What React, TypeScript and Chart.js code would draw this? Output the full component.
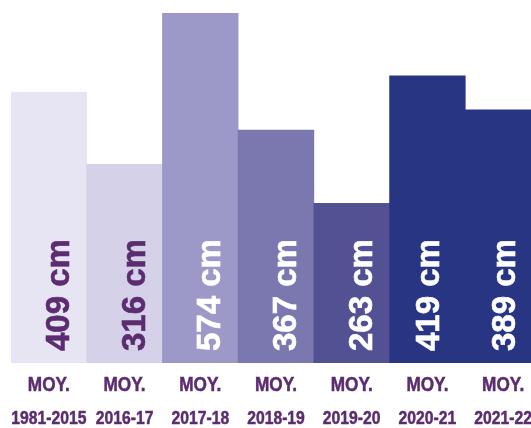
import React, { useEffect, useRef } from "react";
import { Chart, registerables } from "chart.js";

Chart.register(...registerables);

const periods: string[] = ["1981-2015", "2016-17", "2017-18", "2018-19", "2019-20", "2020-21", "2021-22"];
const prefix = "MOY.";
// snow totals printed on the bars (cm)
const snowCm: number[] = [409, 316, 574, 367, 263, 419, 389];
// bar heights as drawn in the picture (cm-equivalent, the infographic is not to scale)
const barLevels: number[] = [444, 326, 574, 382, 262, 471, 415];

const barColors = ["#E7E5F3", "#D4D1E8", "#9C99C8", "#7B77AF", "#525194", "#283582", "#283582"];
const labelColors = ["#5B2C6F", "#5B2C6F", "#FFFFFF", "#FFFFFF", "#FFFFFF", "#FFFFFF", "#FFFFFF"];
const labelShift = [8, 8, 8, 8, 8, 0, 0];
const axisColor = "#5B2C6F";

const valueLabels = {
  id: "valueLabels",
  afterDatasetsDraw(chart: any) {
    const ctx = chart.ctx;
    const meta = chart.getDatasetMeta(0);
    meta.data.forEach((bar: any, i: number) => {
      ctx.save();
      ctx.translate(bar.x + labelShift[i] + 12, bar.base - 12);
      ctx.rotate(-Math.PI / 2);
      ctx.font = "bold 33px 'Liberation Sans', Arial, sans-serif";
      ctx.fillStyle = labelColors[i];
      ctx.strokeStyle = labelColors[i];
      ctx.lineWidth = 0.6;
      ctx.textAlign = "left";
      ctx.textBaseline = "alphabetic";
      ctx.fillText(`${snowCm[i]} cm`, 0, 0);
      ctx.strokeText(`${snowCm[i]} cm`, 0, 0);
      ctx.restore();
    });
  },
};

// category labels under the bars, narrowed like a condensed face
const categoryLabels = {
  id: "categoryLabels",
  afterDraw(chart: any) {
    const ctx = chart.ctx;
    const xScale = chart.scales.x;
    const bottom = chart.chartArea.bottom;
    periods.forEach((p, i) => {
      const x = xScale.getPixelForValue(i);
      ctx.save();
      ctx.fillStyle = axisColor;
      ctx.strokeStyle = axisColor;
      ctx.lineWidth = 0.5;
      ctx.textAlign = "center";
      ctx.textBaseline = "middle";
      ctx.translate(x, bottom + 22.5);
      ctx.scale(0.86, 1);
      ctx.font = "bold 20px 'Liberation Sans', Arial, sans-serif";
      ctx.fillText(prefix, 0, 0);
      ctx.strokeText(prefix, 0, 0);
      ctx.restore();
      ctx.save();
      ctx.fillStyle = axisColor;
      ctx.strokeStyle = axisColor;
      ctx.lineWidth = 0.5;
      ctx.textAlign = "center";
      ctx.textBaseline = "middle";
      ctx.translate(x, bottom + 56);
      ctx.scale(0.85, 1);
      ctx.font = "bold 18.5px 'Liberation Sans', Arial, sans-serif";
      ctx.fillText(p, 0, 0);
      ctx.strokeText(p, 0, 0);
      ctx.restore();
    });
  },
};

export default function App() {
  const ref = useRef<HTMLCanvasElement>(null);
  useEffect(() => {
    if (!ref.current) return;
    const chart = new Chart(ref.current, {
      type: "bar",
      data: {
        labels: periods,
        datasets: [
          {
            data: barLevels,
            backgroundColor: barColors,
            borderWidth: 0,
            categoryPercentage: 1,
            barPercentage: 1,
          },
        ],
      },
      options: {
        responsive: false,
        animation: false,
        devicePixelRatio: 1,
        layout: { padding: { left: 11, right: 4, top: 13, bottom: 65 } },
        plugins: { legend: { display: false }, tooltip: { enabled: false } },
        scales: {
          y: { display: false, min: 0, max: 574 },
          x: { display: false },
        },
      },
      plugins: [valueLabels, categoryLabels],
    });
    return () => chart.destroy();
  }, []);
  return (
    <div style={{ position: "absolute", left: 0, top: 0, width: 531, height: 428, overflow: "hidden", background: "#fff" }}>
      <canvas ref={ref} width={545} height={428} style={{ display: "block", width: 545, height: 428 }} />
    </div>
  );
}
